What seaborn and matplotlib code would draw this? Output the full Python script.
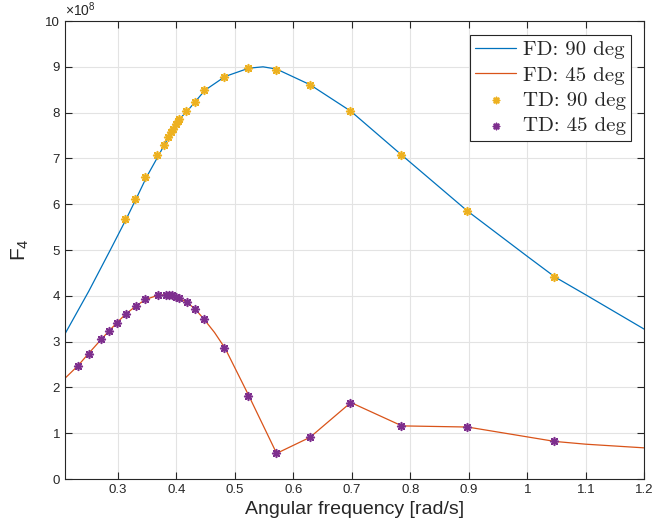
import numpy as np
import pandas as pd
import matplotlib
matplotlib.use("Agg")
import matplotlib.pyplot as plt
import seaborn as sns
from matplotlib.ticker import FixedLocator, FuncFormatter

# ---- data (F4 in units of 1e8) ----
fd90_w = [0.2094, 0.25, 0.2856, 0.3142, 0.3307, 0.3491, 0.3696, 0.3900, 0.4050,
          0.4189, 0.4488, 0.4833, 0.5236, 0.5480, 0.5712, 0.6283, 0.6981, 0.7854,
          0.8976, 1.0000, 1.0472, 1.1000, 1.2000]
fd90_f = [3.17, 4.10, 4.97, 5.68, 6.11, 6.60, 7.07, 7.55, 7.86,
          8.04, 8.49, 8.79, 8.97, 9.00, 8.95, 8.61, 8.03, 7.07,
          5.85, 4.86, 4.41, 4.02, 3.27]

fd45_w = [0.2094, 0.2313, 0.2497, 0.2714, 0.2844, 0.2980, 0.3130, 0.3300, 0.3470,
          0.3680, 0.3815, 0.3870, 0.3930, 0.3986, 0.4040, 0.4175, 0.4320, 0.4470,
          0.4650, 0.4833, 0.5236, 0.5712, 0.6283, 0.6981, 0.7854, 0.8976, 1.0472,
          1.1000, 1.2000]
fd45_f = [2.20, 2.47, 2.74, 3.05, 3.23, 3.41, 3.60, 3.77, 3.92,
          4.01, 4.02, 4.02, 4.01, 3.98, 3.95, 3.86, 3.71, 3.49,
          3.20, 2.85, 1.82, 0.56, 0.91, 1.67, 1.16, 1.135, 0.82,
          0.76, 0.68]

td90_w = [0.3125, 0.3296, 0.3470, 0.3670, 0.3790, 0.3860, 0.3910, 0.3940, 0.4000,
          0.4026, 0.4050, 0.4170, 0.4320, 0.4470, 0.4820, 0.5225, 0.5700, 0.6275,
          0.6966, 0.7838, 0.8960, 1.0460]
td90_f = [5.68, 6.11, 6.59, 7.07, 7.29, 7.47, 7.57, 7.64, 7.75,
          7.82, 7.86, 8.03, 8.24, 8.49, 8.78, 8.97, 8.94, 8.61,
          8.03, 7.07, 5.85, 4.40]

td45_w = [0.2313, 0.2497, 0.2714, 0.2844, 0.2980, 0.3130, 0.3300, 0.3470, 0.3680,
          0.3815, 0.3870, 0.3930, 0.3986, 0.4040, 0.4175, 0.4320, 0.4470, 0.4820,
          0.5230, 0.5700, 0.6275, 0.6970, 0.7840, 0.8960, 1.0460]
td45_f = [2.47, 2.74, 3.05, 3.23, 3.41, 3.60, 3.77, 3.92, 4.01,
          4.02, 4.02, 4.01, 3.98, 3.95, 3.86, 3.71, 3.49, 2.85,
          1.82, 0.56, 0.91, 1.67, 1.16, 1.135, 0.82]

x_ticks = [0.3, 0.4, 0.5, 0.6, 0.7, 0.8, 0.9, 1.0, 1.1, 1.2]
y_ticks = [0, 1, 2, 3, 4, 5, 6, 7, 8, 9, 10]
scale = 1e8

labels = ["FD: 90 deg", "FD: 45 deg", "TD: 90 deg", "TD: 45 deg"]
colors = ["#0072BD", "#D95319", "#EDB120", "#7E2F8E"]

sns.set_style("ticks")
plt.rcParams["font.family"] = ["Liberation Sans", "DejaVu Sans"]
plt.rcParams["mathtext.default"] = "regular"

fig = plt.figure(figsize=(6.54, 5.32), dpi=100)
ax = fig.add_axes([0.0994, 0.0996, 0.9853 - 0.0994, 0.9605 - 0.0996])

df_fd90 = pd.DataFrame({"w": fd90_w, "F": np.array(fd90_f) * scale})
df_fd45 = pd.DataFrame({"w": fd45_w, "F": np.array(fd45_f) * scale})
df_td90 = pd.DataFrame({"w": td90_w, "F": np.array(td90_f) * scale})
df_td45 = pd.DataFrame({"w": td45_w, "F": np.array(td45_f) * scale})

sns.lineplot(data=df_fd90, x="w", y="F", sort=False, estimator=None, color=colors[0],
             linewidth=0.9, label=labels[0], ax=ax)
sns.lineplot(data=df_fd45, x="w", y="F", sort=False, estimator=None, color=colors[1],
             linewidth=0.9, label=labels[1], ax=ax)
ast = (8, 2, 0)
sns.scatterplot(data=df_td90, x="w", y="F", marker=ast, s=30, color=colors[2],
                linewidth=1.2, label=labels[2], ax=ax, zorder=3)
sns.scatterplot(data=df_td45, x="w", y="F", marker=ast, s=30, color=colors[3],
                linewidth=1.2, label=labels[3], ax=ax, zorder=3)

ax.set_xlim(0.2094, 1.2)
ax.set_ylim(0, 10 * scale)
ax.xaxis.set_major_locator(FixedLocator(x_ticks))
ax.xaxis.set_major_formatter(FuncFormatter(lambda v, p: f"{v:g}"))
ax.yaxis.set_major_locator(FixedLocator([t * scale for t in y_ticks]))
ax.yaxis.set_major_formatter(FuncFormatter(lambda v, p: f"{v / scale:g}"))

ax.grid(True, color="#e3e3e3", linewidth=0.8)
ax.set_axisbelow(True)
for s in ax.spines.values():
    s.set_visible(True)
    s.set_color("#262626")
    s.set_linewidth(0.8)
ax.tick_params(direction="in", length=5, width=0.8, color="#262626",
               top=True, right=True, labelsize=9.5, labelcolor="#262626")

ax.set_xlabel("Angular frequency [rad/s]", fontsize=14, color="#262626", labelpad=4)
ax.set_ylabel("F$_4$", fontsize=15, color="#262626", labelpad=10)
ax.text(0.0, 1.004, r"$\times 10^{8}$", transform=ax.transAxes, fontsize=10,
        color="#262626", ha="left", va="bottom")

leg = ax.legend(loc="upper right", bbox_to_anchor=(0.984, 0.978), frameon=True, fancybox=False,
                edgecolor="#262626", framealpha=1, prop={"family": "cmr10", "size": 15},
                handlelength=2.0, handletextpad=0.3, labelspacing=0.33, borderpad=0.25,
                borderaxespad=0.2, markerscale=0.8)
leg.get_frame().set_linewidth(0.8)

fig.savefig("out.png", dpi=100)
